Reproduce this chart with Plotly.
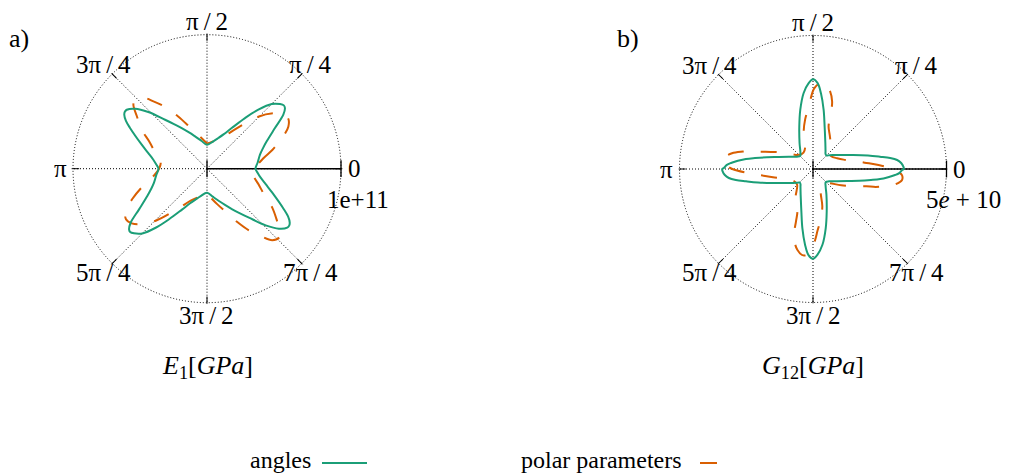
import math
import plotly.graph_objects as go

# ---------------------------------------------------------------- data
# Sampled polar diagrams over half a turn (degrees); the moduli are
# pi-periodic, so the second half of each curve repeats the first.

# a) E1 [Pa]
e1_angles_theta = [0, 7, 14.8, 20, 24.6, 30.9, 35.3, 37.9, 39.5, 41.5, 45, 49,
                   53.1, 58.7, 64, 69.8, 77, 90, 101.5, 110.3, 116, 121.9,
                   126.5, 130.6, 136, 140.2, 143.7, 145.3, 146.9, 149.5, 152.1,
                   159.8, 165, 170.5, 175]
e1_angles_r = [3.62e10, 3.81e10, 4.09e10, 4.44e10, 4.90e10, 5.91e10, 6.98e10,
               7.37e10, 7.43e10, 7.28e10, 6.83e10, 5.84e10, 4.72e10, 3.55e10,
               2.87e10, 2.44e10, 2.10e10, 1.79e10, 2.13e10, 2.57e10, 2.99e10,
               3.57e10, 4.14e10, 4.81e10, 6.09e10, 6.99e10, 7.43e10, 7.46e10,
               7.37e10, 7.02e10, 6.50e10, 5.19e10, 4.55e10, 4.06e10, 3.81e10]

e1_polar_theta = [0, 10.5, 16, 22.1, 27.3, 32, 36, 39.9, 45.4, 53.7, 63, 75,
                  90, 93, 106, 114, 119.6, 124.2, 128.5, 132.4, 136.2, 139,
                  143, 149.2, 154.7, 163, 172.3]
e1_polar_r = [3.58e10, 4.28e10, 5.07e10, 6.02e10, 6.83e10, 7.13e10, 6.94e10,
              6.45e10, 5.45e10, 3.74e10, 2.68e10, 2.16e10, 1.90e10, 1.99e10,
              2.75e10, 3.58e10, 4.58e10, 5.57e10, 6.42e10, 7.22e10, 7.44e10,
              7.28e10, 6.57e10, 5.67e10, 4.78e10, 4.03e10, 3.49e10]

# b) G12 [Pa]
g12_angles_theta = [0, 1.3, 3.9, 6.1, 8.1, 10.4, 13.8, 19.3, 25, 35, 40, 45,
                    50, 55, 64.4, 74.7, 79.8, 84, 86.9, 90, 92.9, 97.1, 102.1,
                    107.9, 117.5, 126, 134.3, 142.4, 153, 160.6, 165.7, 169.3,
                    171.5, 173.8, 175.8, 177.3, 179.4]
g12_angles_r = [3.40e10, 3.39e10, 3.31e10, 3.17e10, 2.92e10, 2.55e10, 2.12e10,
                1.59e10, 1.24e10, 0.915e10, 0.806e10, 0.713e10, 0.731e10,
                0.818e10, 1.07e10, 1.65e10, 2.25e10, 2.85e10, 3.22e10,
                3.36e10, 3.22e10, 2.86e10, 2.27e10, 1.67e10, 1.09e10,
                0.806e10, 0.683e10, 0.758e10, 1.01e10, 1.35e10, 1.78e10,
                2.21e10, 2.54e10, 2.83e10, 3.08e10, 3.23e10, 3.34e10]

g12_polar_theta = [0, 3.5, 7, 11.7, 17, 24, 35, 45, 57.6, 63, 69.8, 72, 74.2,
                   79, 84, 89, 92.2, 94, 99, 104, 109, 120, 135, 150, 160, 162,
                   164, 166, 169, 173, 176, 178]
g12_polar_r = [3.02e10, 2.46e10, 1.95e10, 1.53e10, 1.20e10, 0.99e10, 0.83e10,
               0.84e10, 1.21e10, 1.39e10, 1.69e10, 2.06e10, 2.63e10, 3.08e10,
               3.26e10, 3.03e10, 2.59e10, 2.34e10, 1.88e10, 1.44e10, 0.89e10,
               0.71e10, 0.75e10, 1.22e10, 1.90e10, 2.10e10, 2.44e10, 2.70e10,
               3.09e10, 3.36e10, 3.34e10, 3.21e10]

angle_tickvals = [0, 45, 90, 135, 180, 225, 270, 315]
angle_ticktext = ["0", "π/4", "π/2", "3π/4", "π", "5π/4", "3π/2", "7π/4"]

e1_rmax = 1e11
g12_rmax = 5e10
e1_rlabel = "1e+11"
g12_rlabel = "5<i>e</i> + 10"

panel_tags = ["a)", "b)"]
panel_titles = ["<i>E</i><sub>1</sub>[<i>GPa</i>]",
                "<i>G</i><sub>12</sub>[<i>GPa</i>]"]
series_names = ["angles", "polar parameters"]

# ---------------------------------------------------------------- style
W, H = 1009, 474
GREEN = "#1b9e77"
ORANGE = "#d95f02"
FONT = "Liberation Serif"
TICK_SIZE = 25
TEXT_SIZE = 26
KEY_SIZE = 24
DOT = "1px,2px"
# the radial range runs 1 % past the last tick so that plotly keeps the
# dotted grid circle at that tick (it drops grid lines sitting on the edge)
PAD = 1.01


def full_turn(theta, r):
    th = list(theta) + [t + 180 for t in theta] + [theta[0] + 360]
    rr = list(r) + list(r) + [r[0]]
    return th, rr


def px_x(x):
    return x / W


def px_y(y):
    return 1 - y / H


# panel geometry in pixels: centre and radius of the outer circle
panels = [dict(cx=207.0, cy=168.7, R=134.0), dict(cx=813.0, cy=169.0, R=133.5)]

fig = go.Figure()

curves = [
    ("polar", e1_angles_theta, e1_angles_r, e1_polar_theta, e1_polar_r, e1_rmax),
    ("polar2", g12_angles_theta, g12_angles_r, g12_polar_theta, g12_polar_r, g12_rmax),
]

for sub, th_a, r_a, th_p, r_p, rmax in curves:
    # solid radial axis from the centre out to the outer circle
    fig.add_trace(go.Scatterpolar(
        theta=[0, 0], r=[0, rmax], mode="lines", subplot=sub,
        showlegend=False, hoverinfo="skip", cliponaxis=False,
        line=dict(color="black", width=1.6)))
    # tick marks on the radial axis (centre and outer end)
    fig.add_trace(go.Scatterpolar(
        theta=[0, 0], r=[0, rmax], mode="markers", subplot=sub,
        showlegend=False, cliponaxis=False, hoverinfo="skip",
        marker=dict(symbol="line-ns", size=12,
                    line=dict(color="black", width=1.3))))
    t, r = full_turn(th_p, r_p)
    fig.add_trace(go.Scatterpolar(
        theta=t, r=r, mode="lines", subplot=sub, showlegend=False,
        name=series_names[1],
        line=dict(color=ORANGE, width=2, dash="16px,17px", shape="spline")))
    t, r = full_turn(th_a, r_a)
    fig.add_trace(go.Scatterpolar(
        theta=t, r=r, mode="lines", subplot=sub, showlegend=False,
        name=series_names[0],
        line=dict(color=GREEN, width=2, shape="spline")))


def polar_layout(p, rmax):
    Rd = p["R"] * PAD
    return dict(
        domain=dict(x=[px_x(p["cx"] - Rd), px_x(p["cx"] + Rd)],
                    y=[px_y(p["cy"] + Rd), px_y(p["cy"] - Rd)]),
        bgcolor="white",
        radialaxis=dict(range=[0, rmax * PAD], tickvals=[0, rmax], angle=0,
                        showticklabels=False, ticks="",
                        showline=False, showgrid=True, gridcolor="black",
                        gridwidth=1, griddash=DOT),
        angularaxis=dict(rotation=0, direction="counterclockwise",
                         tickmode="array", tickvals=angle_tickvals,
                         showticklabels=False, ticks="inside", ticklen=7,
                         tickcolor="black", tickwidth=1,
                         showline=False, showgrid=True, gridcolor="black",
                         gridwidth=1, griddash=DOT),
    )


annotations = []

for p, title, rlab in zip(panels, panel_titles, [e1_rlabel, g12_rlabel]):
    for ang, txt in zip(angle_tickvals, angle_ticktext):
        d = p["R"] + 13
        x = p["cx"] + d * math.cos(math.radians(ang))
        y = p["cy"] - d * math.sin(math.radians(ang))
        txt = txt.replace("/", "\u2009/\u2009")
        annotations.append(dict(x=px_x(x), y=px_y(y), xref="paper", yref="paper",
                                text=txt, showarrow=False, xanchor="center",
                                yanchor="middle",
                                font=dict(family=FONT, size=TICK_SIZE,
                                          color="black")))
    annotations.append(dict(x=px_x(p["cx"] + p["R"] + 17), y=px_y(199),
                            xref="paper", yref="paper", text=rlab,
                            showarrow=False, xanchor="center", yanchor="middle",
                            font=dict(family=FONT, size=TICK_SIZE,
                                      color="black")))
    annotations.append(dict(x=px_x(p["cx"]), y=px_y(367), xref="paper",
                            yref="paper", text=title, showarrow=False,
                            xanchor="center", yanchor="middle",
                            font=dict(family=FONT, size=TEXT_SIZE,
                                      color="black")))

for tag, x0 in zip(panel_tags, [7, 615]):
    annotations.append(dict(x=px_x(x0), y=px_y(38), xref="paper", yref="paper",
                            text=tag, showarrow=False, xanchor="left",
                            yanchor="middle",
                            font=dict(family=FONT, size=TEXT_SIZE,
                                      color="black")))

# key: text on the left, line sample on the right
annotations.append(dict(x=px_x(313), y=px_y(460), xref="paper", yref="paper",
                        text=series_names[0], showarrow=False, xanchor="right",
                        yanchor="middle",
                        font=dict(family=FONT, size=KEY_SIZE, color="black")))
annotations.append(dict(x=px_x(684), y=px_y(460), xref="paper", yref="paper",
                        text=series_names[1], showarrow=False, xanchor="right",
                        yanchor="middle",
                        font=dict(family=FONT, size=KEY_SIZE, color="black")))

shapes = [
    dict(type="line", xref="paper", yref="paper", x0=px_x(322), x1=px_x(367),
         y0=px_y(463), y1=px_y(463), line=dict(color=GREEN, width=2)),
    dict(type="line", xref="paper", yref="paper", x0=px_x(700), x1=px_x(745),
         y0=px_y(463), y1=px_y(463),
         line=dict(color=ORANGE, width=2, dash="17px,40px")),
]

fig.update_layout(
    width=W, height=H, margin=dict(l=0, r=0, t=0, b=0),
    paper_bgcolor="white", plot_bgcolor="white", showlegend=False,
    polar=polar_layout(panels[0], e1_rmax),
    polar2=polar_layout(panels[1], g12_rmax),
    annotations=annotations, shapes=shapes,
)

fig.write_html("out.html")
